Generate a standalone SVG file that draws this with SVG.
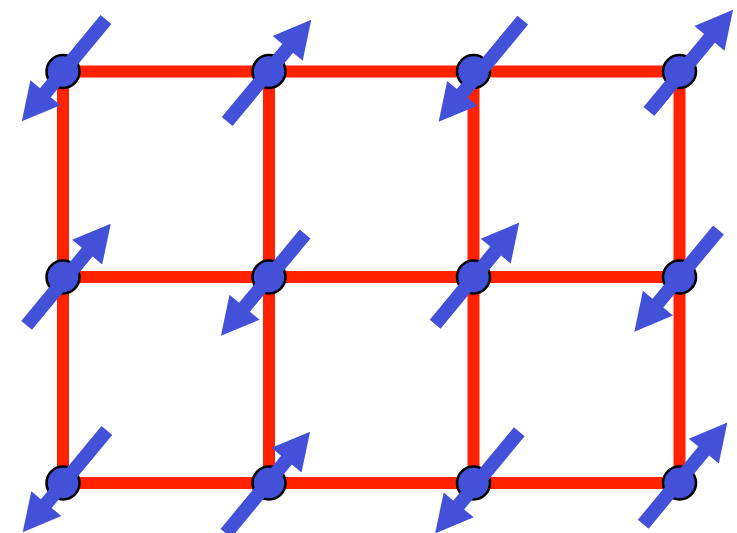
<svg xmlns="http://www.w3.org/2000/svg" xmlns:xlink="http://www.w3.org/1999/xlink" width="737" height="533" viewBox="0 0 737 533">
<style>
.edge{stroke:#ff2200;stroke-width:12;fill:none}
.site{fill:#4350d8;stroke:#000;stroke-width:2.5}
.spin{fill:#4350d8}
</style>
<defs>
<path id="arr" class="spin" d="M-66,-7 L29,-7 L29,-19.5 L66,0 L29,19.5 L29,7 L-66,7 Z"/>
</defs>
<rect width="737" height="533" fill="#fff"/>
<g id="connectors">
<line class="edge" x1="63" y1="71.5" x2="269" y2="71.5"/>
<line class="edge" x1="269" y1="71.5" x2="473.5" y2="71.5"/>
<line class="edge" x1="473.5" y1="71.5" x2="679.5" y2="71.5"/>
<line class="edge" x1="63" y1="277" x2="269" y2="277"/>
<line class="edge" x1="269" y1="277" x2="473.5" y2="277"/>
<line class="edge" x1="473.5" y1="277" x2="679.5" y2="277"/>
<line class="edge" x1="63" y1="483" x2="269" y2="483"/>
<line class="edge" x1="269" y1="483" x2="473.5" y2="483"/>
<line class="edge" x1="473.5" y1="483" x2="679.5" y2="483"/>
<line class="edge" x1="63" y1="71.5" x2="63" y2="277"/>
<line class="edge" x1="63" y1="277" x2="63" y2="483"/>
<line class="edge" x1="269" y1="71.5" x2="269" y2="277"/>
<line class="edge" x1="269" y1="277" x2="269" y2="483"/>
<line class="edge" x1="473.5" y1="71.5" x2="473.5" y2="277"/>
<line class="edge" x1="473.5" y1="277" x2="473.5" y2="483"/>
<line class="edge" x1="679.5" y1="71.5" x2="679.5" y2="277"/>
<line class="edge" x1="679.5" y1="277" x2="679.5" y2="483"/>
</g>
<g id="n00"><circle class="site" cx="63" cy="71.5" r="16.5"/><use xlink:href="#arr" transform="translate(63.9,70.4) rotate(129.6)"/></g>
<g id="n01"><circle class="site" cx="269" cy="71.5" r="16.5"/><use xlink:href="#arr" transform="translate(269.2,70.7) rotate(-50.4)"/></g>
<g id="n02"><circle class="site" cx="473.5" cy="71.5" r="16.5"/><use xlink:href="#arr" transform="translate(480.7,71) rotate(129.6)"/></g>
<g id="n03"><circle class="site" cx="679.5" cy="71.5" r="16.5"/><use xlink:href="#arr" transform="translate(691,60.7) rotate(-50.4)"/></g>
<g id="n10"><circle class="site" cx="63" cy="277" r="16.5"/><use xlink:href="#arr" transform="translate(68.7,274.5) rotate(-50.4)"/></g>
<g id="n11"><circle class="site" cx="269" cy="277" r="16.5"/><use xlink:href="#arr" transform="translate(263,284.9) rotate(129.6)"/></g>
<g id="n12"><circle class="site" cx="473.5" cy="277" r="16.5"/><use xlink:href="#arr" transform="translate(477.2,273.4) rotate(-50.4)"/></g>
<g id="n13"><circle class="site" cx="679.5" cy="277" r="16.5"/><use xlink:href="#arr" transform="translate(676.4,280.8) rotate(129.6)"/></g>
<g id="n20"><circle class="site" cx="63" cy="483" r="16.5"/><use xlink:href="#arr" transform="translate(64.8,481.3) rotate(129.6)"/></g>
<g id="n21"><circle class="site" cx="269" cy="483" r="16.5"/><use xlink:href="#arr" transform="translate(268,482.5) rotate(-50.4)"/></g>
<g id="n22"><circle class="site" cx="473.5" cy="483" r="16.5"/><use xlink:href="#arr" transform="translate(477.2,482.6) rotate(129.6)"/></g>
<g id="n23"><circle class="site" cx="679.5" cy="483" r="16.5"/><use xlink:href="#arr" transform="translate(685.3,473.4) rotate(-50.4)"/></g>
</svg>
